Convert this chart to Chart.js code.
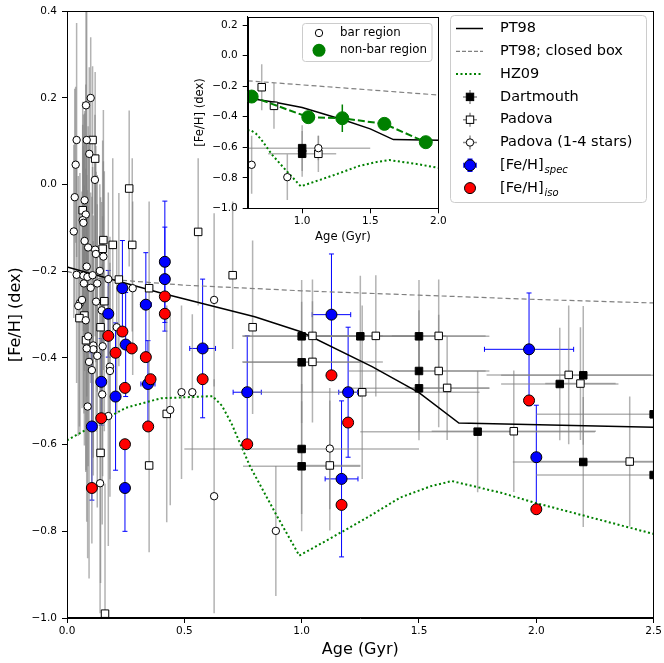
<!DOCTYPE html>
<html>
<head>
<meta charset="utf-8">
<script src="https://cdn.jsdelivr.net/npm/chart.js@4.4.0/dist/chart.umd.min.js"></script>
<style>
  html, body { margin: 0; padding: 0; background: #fff; }
  #wrap { position: relative; width: 664px; height: 663px; }
  #main { position: absolute; left: 0; top: 0; }
  #inset { position: absolute; left: 180px; top: 0; }
</style>
</head>
<body>
<div id="wrap">
  <canvas id="main" width="664" height="663"></canvas>
  <canvas id="inset" width="270" height="250"></canvas>
</div>
<script>
// ---- model curves ----
const agePT98 = [0.0, 0.4, 0.8, 1.0, 1.3, 1.5, 1.67, 2.5];
const fehPT98 = [-0.19, -0.25, -0.305, -0.34, -0.42, -0.48, -0.55, -0.56];
const ageBox = [0.0, 0.1, 0.5, 1.0, 1.5, 2.0, 2.5];
const fehBox = [-0.20, -0.215, -0.232, -0.245, -0.255, -0.265, -0.273];
const ageHZ09 = [0.0, 0.1, 0.25, 0.4, 0.62, 0.66, 0.7, 0.78, 0.89, 0.99, 1.13, 1.28, 1.42, 1.55, 1.64, 1.85, 2.0, 2.5];
const fehHZ09 = [-0.59, -0.56, -0.515, -0.493, -0.488, -0.51, -0.55, -0.65, -0.76, -0.856, -0.814, -0.768, -0.722, -0.696, -0.684, -0.711, -0.735, -0.806];

// ---- Dartmouth (filled squares) ----
const ageDart = [1.0, 1.0, 1.25, 1.5, 1.5, 1.5, 1.0, 1.0, 1.75, 2.1, 2.2, 2.2, 2.5, 2.5];
const fehDart = [-0.35, -0.41, -0.35, -0.35, -0.43, -0.47, -0.61, -0.65, -0.57, -0.46, -0.44, -0.64, -0.53, -0.67];
const ageErrDart = [0.25, 0.25, 0.25, 0.3, 0.3, 0.3, 0.5, 0.25, 0.5, 0.25, 0.35, 0.3, 0.5, 0.5];
const fehErrDart = [0.13, 0.14, 0.14, 0.13, 0.14, 0.12, 0.15, 0.15, 0.14, 0.13, 0.16, 0.15, 0.15, 0.15];

// ---- Padova (open squares) ----
const agePad = [0.109, 0.12, 0.067, 0.155, 0.195, 0.278, 0.152, 0.265, 0.559, 0.706,
  0.221, 0.35, 0.159, 0.074, 0.053, 0.143, 0.081, 0.791, 0.425, 0.143,
  0.35, 0.162, 1.046, 1.046, 1.316, 1.584, 1.584, 1.62, 1.258, 1.12,
  2.138, 2.188, 1.904, 2.398];
const fehPad = [0.103, 0.06, -0.059, -0.128, -0.139, -0.139, -0.148, -0.009, -0.109, -0.209,
  -0.219, -0.239, -0.269, -0.302, -0.308, -0.329, -0.359, -0.329, -0.529, -0.619,
  -0.648, -0.99, -0.349, -0.409, -0.349, -0.349, -0.43, -0.469, -0.479, -0.648,
  -0.439, -0.459, -0.569, -0.639];
const ageErrPad = [0, 0, 0, 0, 0, 0, 0, 0, 0, 0,
  0, 0, 0, 0, 0, 0, 0, 0, 0, 0,
  0, 0, 0.3, 0.3, 0.3, 0.2, 0.2, 0.18, 0.5, 0.13,
  0.35, 0.15, 0.35, 0.4];
const fehErrPad = [0.17, 0.2, 0.25, 0.3, 0.2, 0.2, 0.25, 0.18, 0.17, 0.17,
  0.2, 0.2, 0.3, 0.3, 0.25, 0.3, 0.3, 0.2, 0.25, 0.3,
  0.2, 0.3, 0.13, 0.14, 0.14, 0.13, 0.13, 0.12, 0.2, 0.15,
  0.16, 0.13, 0.14, 0.15];

// ---- Padova, 1-4 stars (open circles) ----
const ageP14 = [0.081, 0.101, 0.041, 0.084, 0.095, 0.037, 0.119, 0.033, 0.075, 0.08,
  0.067, 0.07, 0.029, 0.075, 0.09, 0.12, 0.123, 0.155, 0.084, 0.041,
  0.07, 0.087, 0.109, 0.14, 0.072, 0.101, 0.129, 0.176, 0.28, 0.055,
  0.048, 0.064, 0.124, 0.148, 0.08, 0.212, 0.09, 0.112, 0.112, 0.084,
  0.152, 0.129, 0.094, 0.106, 0.183, 0.183, 0.15, 0.088, 0.176, 0.488,
  0.534, 0.44, 0.141, 0.627, 0.627, 0.89, 1.12];
const fehP14 = [0.183, 0.2, 0.103, 0.103, 0.071, 0.046, 0.011, -0.029, -0.036, -0.069,
  -0.082, -0.088, -0.108, -0.13, -0.145, -0.15, -0.16, -0.166, -0.189, -0.208,
  -0.21, -0.213, -0.209, -0.199, -0.228, -0.238, -0.228, -0.218, -0.239, -0.273,
  -0.28, -0.266, -0.27, -0.29, -0.313, -0.329, -0.35, -0.371, -0.38, -0.378,
  -0.373, -0.395, -0.409, -0.428, -0.42, -0.43, -0.484, -0.512, -0.534, -0.479,
  -0.479, -0.52, -0.689, -0.719, -0.266, -0.799, -0.609];
const fehErrP14 = [0.22, 0.14, 0.27, 0.3, 0.2, 0.18, 0.15, 0.25, 0.2, 0.3,
  0.22, 0.25, 0.2, 0.3, 0.28, 0.2, 0.25, 0.22, 0.3, 0.25,
  0.3, 0.2, 0.25, 0.2, 0.3, 0.22, 0.25, 0.2, 0.2, 0.3,
  0.3, 0.25, 0.3, 0.25, 0.35, 0.2, 0.3, 0.3, 0.25, 0.4,
  0.3, 0.35, 0.5, 0.4, 0.3, 0.25, 0.3, 0.35, 0.3, 0.2,
  0.18, 0.22, 0.3, 0.27, 0.2, 0.15, 0.14];

// ---- [Fe/H]_spec (blue) ----
const ageSpec = [0.106, 0.146, 0.176, 0.207, 0.236, 0.25, 0.247, 0.336, 0.345, 0.417,
  0.417, 0.578, 0.768, 1.127, 1.198, 1.17, 1.969, 2.0];
const fehSpec = [-0.558, -0.455, -0.298, -0.489, -0.239, -0.369, -0.70, -0.277, -0.46, -0.178,
  -0.218, -0.378, -0.479, -0.30, -0.479, -0.679, -0.38, -0.629];
const ageErrSpec = [0, 0, 0, 0, 0, 0, 0, 0.023, 0.03, 0.02,
  0.02, 0.055, 0.06, 0.082, 0.04, 0.07, 0.19, 0];
const fehErrSpec = [0.17, 0.1, 0.1, 0.17, 0.11, 0.12, 0.1, 0.12, 0.1, 0.14,
  0.12, 0.16, 0.13, 0.14, 0.15, 0.18, 0.13, 0.12];

// ---- [Fe/H]_iso (red) ----
const ageIso = [0.417, 0.417, 0.236, 0.176, 0.276, 0.207, 0.336, 0.356, 0.578, 0.247,
  0.146, 0.346, 0.247, 0.106, 0.768, 1.127, 1.198, 1.17, 1.969, 2.0];
const fehIso = [-0.258, -0.298, -0.339, -0.349, -0.378, -0.388, -0.398, -0.449, -0.449, -0.469,
  -0.539, -0.558, -0.599, -0.70, -0.599, -0.44, -0.549, -0.739, -0.498, -0.749];

// ---- inset ----
const insetAgeBox = [0.6, 2.0];
const insetFehBox = [-0.165, -0.258];
const insetAgeNonBar = [0.629, 1.045, 1.295, 1.604, 1.908];
const insetFehNonBar = [-0.268, -0.403, -0.41, -0.447, -0.567];
const insetErrNonBar = [0, 0, 0.09, 0, 0];
const insetAgeDart = [1.0, 1.0];
const insetFehDart = [-0.606, -0.643];
const insetAgeErrDart = [0.5, 0.25];
const insetFehErrDart = [0.15, 0.15];
const insetAgePad = [0.703, 0.793, 1.119];
const insetFehPad = [-0.207, -0.329, -0.643];
const insetFehErrPad = [0.15, 0.15, 0.12];
const insetAgeBar = [0.629, 0.891, 1.119];
const insetFehBar = [-0.715, -0.796, -0.606];
const insetFehErrBar = [0.19, 0.15, 0.08];

const legendLabels = ['PT98', 'PT98; closed box', 'HZ09', 'Dartmouth', 'Padova', 'Padova (1-4 stars)', '[Fe/H]', '[Fe/H]'];
const legendSubs = ['', '', '', '', '', '', 'spec', 'iso'];
const insetLegendLabels = ['bar region', 'non-bar region'];

const FONT = "'DejaVu Sans', sans-serif";
const GREY_ERR = 'rgba(128,128,128,0.6)';
const GREEN = '#008000';
Chart.defaults.font.family = FONT;
Chart.defaults.color = '#000';

function pts(xs, ys) { return xs.map((x, i) => ({ x: x, y: ys[i] })); }
function fmt(v) {
  const s = Math.abs(v).toFixed(1);
  return (v < -1e-9 ? '\u2212' : '') + s;
}

// error bars drawn through the chart scales
const errorBars = {
  id: 'errorBars',
  beforeDatasetsDraw(chart) {
    const ctx = chart.ctx, xs = chart.scales.x, ys = chart.scales.y, a = chart.chartArea;
    ctx.save();
    ctx.beginPath();
    ctx.rect(a.left, a.top, a.right - a.left, a.bottom - a.top);
    ctx.clip();
    chart.data.datasets.forEach(ds => {
      if (!ds.errY && !ds.errX) return;
      ctx.strokeStyle = ds.errColor;
      ctx.lineWidth = ds.errWidth;
      const cap = ds.capSize || 0;
      ds.data.forEach((p, i) => {
        const px = xs.getPixelForValue(p.x), py = ys.getPixelForValue(p.y);
        const ey = ds.errY ? ds.errY[i] : 0, ex = ds.errX ? ds.errX[i] : 0;
        ctx.beginPath();
        if (ey) {
          const y1 = ys.getPixelForValue(p.y + ey), y2 = ys.getPixelForValue(p.y - ey);
          ctx.moveTo(px, y1); ctx.lineTo(px, y2);
          if (cap) {
            ctx.moveTo(px - cap, y1); ctx.lineTo(px + cap, y1);
            ctx.moveTo(px - cap, y2); ctx.lineTo(px + cap, y2);
          }
        }
        if (ex) {
          const x1 = xs.getPixelForValue(p.x - ex), x2 = xs.getPixelForValue(p.x + ex);
          ctx.moveTo(x1, py); ctx.lineTo(x2, py);
          if (cap) {
            ctx.moveTo(x1, py - cap); ctx.lineTo(x1, py + cap);
            ctx.moveTo(x2, py - cap); ctx.lineTo(x2, py + cap);
          }
        }
        ctx.stroke();
      });
    });
    ctx.restore();
  }
};

const frame = {
  id: 'frame',
  beforeDraw(chart) {
    if (!chart.options.plugins.frame || !chart.options.plugins.frame.fill) return;
    const a = chart.chartArea, ctx = chart.ctx;
    ctx.save();
    ctx.fillStyle = '#fff';
    ctx.fillRect(a.left, a.top, a.right - a.left, a.bottom - a.top);
    ctx.restore();
  },
  afterDatasetsDraw(chart) {
    const a = chart.chartArea, ctx = chart.ctx;
    ctx.save();
    ctx.strokeStyle = '#000';
    ctx.lineWidth = 1;
    ctx.strokeRect(Math.round(a.left) + 0.5, Math.round(a.top) + 0.5,
      Math.round(a.right - a.left) - 1, Math.round(a.bottom - a.top) - 1);
    ctx.restore();
  }
};

function roundRect(ctx, x, y, w, h, r) {
  ctx.beginPath();
  ctx.moveTo(x + r, y);
  ctx.lineTo(x + w - r, y); ctx.arcTo(x + w, y, x + w, y + r, r);
  ctx.lineTo(x + w, y + h - r); ctx.arcTo(x + w, y + h, x + w - r, y + h, r);
  ctx.lineTo(x + r, y + h); ctx.arcTo(x, y + h, x, y + h - r, r);
  ctx.lineTo(x, y + r); ctx.arcTo(x, y, x + r, y, r);
  ctx.closePath();
}
function circle(ctx, x, y, r, fill, stroke) {
  ctx.beginPath(); ctx.arc(x, y, r, 0, Math.PI * 2);
  ctx.fillStyle = fill; ctx.fill();
  if (stroke) { ctx.strokeStyle = stroke; ctx.lineWidth = 1; ctx.stroke(); }
}
function square(ctx, x, y, s, fill) {
  ctx.fillStyle = fill; ctx.fillRect(x - s / 2, y - s / 2, s, s);
  ctx.strokeStyle = '#000'; ctx.lineWidth = 1; ctx.strokeRect(x - s / 2, y - s / 2, s, s);
}
function cross(ctx, x, y, d, color, cap) {
  ctx.strokeStyle = color; ctx.lineWidth = 1.5;
  ctx.beginPath();
  ctx.moveTo(x - d, y); ctx.lineTo(x + d, y);
  ctx.moveTo(x, y - d); ctx.lineTo(x, y + d);
  if (cap) {
    ctx.moveTo(x - d, y - cap); ctx.lineTo(x - d, y + cap);
    ctx.moveTo(x + d, y - cap); ctx.lineTo(x + d, y + cap);
    ctx.moveTo(x - cap, y - d); ctx.lineTo(x + cap, y - d);
    ctx.moveTo(x - cap, y + d); ctx.lineTo(x + cap, y + d);
  }
  ctx.stroke();
}

const mainLegend = {
  id: 'mainLegend',
  afterDraw(chart) {
    const ctx = chart.ctx;
    ctx.save();
    roundRect(ctx, 450.5, 15.5, 196, 187, 4);
    ctx.fillStyle = 'rgba(255,255,255,0.85)'; ctx.fill();
    ctx.strokeStyle = '#cccccc'; ctx.lineWidth = 1; ctx.stroke();
    const x0 = 456, x1 = 483, xm = 470, tx = 500;
    legendLabels.forEach((lab, i) => {
      const y = 28.5 + i * 22.8;
      ctx.setLineDash([]);
      if (i === 0) {
        ctx.strokeStyle = '#000'; ctx.lineWidth = 1.5;
        ctx.beginPath(); ctx.moveTo(x0, y); ctx.lineTo(x1, y); ctx.stroke();
      } else if (i === 1) {
        ctx.strokeStyle = '#808080'; ctx.lineWidth = 1.2; ctx.setLineDash([4, 2]);
        ctx.beginPath(); ctx.moveTo(x0, y); ctx.lineTo(x1, y); ctx.stroke();
      } else if (i === 2) {
        ctx.strokeStyle = GREEN; ctx.lineWidth = 2; ctx.setLineDash([2, 2.5]);
        ctx.beginPath(); ctx.moveTo(x0, y); ctx.lineTo(x1, y); ctx.stroke();
      } else if (i === 3) {
        cross(ctx, xm, y, 7, 'rgba(110,110,110,0.8)'); square(ctx, xm, y, 7.4, '#000');
      } else if (i === 4) {
        cross(ctx, xm, y, 7, 'rgba(110,110,110,0.8)'); square(ctx, xm, y, 7.4, '#fff');
      } else if (i === 5) {
        cross(ctx, xm, y, 7, 'rgba(110,110,110,0.8)'); circle(ctx, xm, y, 3.7, '#fff', '#000');
      } else if (i === 6) {
        cross(ctx, xm, y, 6, '#0000ff', 2.5); circle(ctx, xm, y, 5.5, '#0000ff', '#000');
      } else {
        circle(ctx, xm, y, 5.5, '#ff0000', '#000');
      }
      ctx.setLineDash([]);
      ctx.fillStyle = '#000';
      ctx.textBaseline = 'middle';
      ctx.textAlign = 'left';
      ctx.font = '14.5px ' + FONT;
      ctx.fillText(lab, tx, y);
      if (legendSubs[i]) {
        const w = ctx.measureText(lab).width;
        ctx.font = 'italic 10px ' + FONT;
        ctx.fillText(legendSubs[i], tx + w + 1, y + 5);
      }
    });
    ctx.restore();
  }
};

const insetLegend = {
  id: 'insetLegend',
  afterDraw(chart) {
    const ctx = chart.ctx;
    ctx.save();
    roundRect(ctx, 122.5, 23.5, 129.5, 38, 3);
    ctx.fillStyle = 'rgba(255,255,255,0.85)'; ctx.fill();
    ctx.strokeStyle = '#cccccc'; ctx.lineWidth = 1; ctx.stroke();
    circle(ctx, 139, 33, 3.7, '#fff', '#000');
    circle(ctx, 139, 50.3, 6.5, GREEN);
    ctx.fillStyle = '#000';
    ctx.textBaseline = 'middle';
    ctx.font = '11.8px ' + FONT;
    insetLegendLabels.forEach((lab, i) => ctx.fillText(lab, 160, i === 0 ? 33 : 50.3));
    ctx.restore();
  }
};

function lineSet(xs, ys, color, width, dash, order) {
  return { data: pts(xs, ys), showLine: true, borderColor: color, borderWidth: width,
    borderDash: dash, pointRadius: 0, pointHoverRadius: 0, fill: false, order: order, clip: 0 };
}

// ---- main chart ----
new Chart(document.getElementById('main'), {
  type: 'scatter',
  data: {
    datasets: [
      { data: pts(ageIso, fehIso), pointStyle: 'circle', pointRadius: 5.5, pointBackgroundColor: '#ff0000',
        pointBorderColor: '#000', pointBorderWidth: 1, order: 1, clip: 0 },
      { data: pts(ageSpec, fehSpec), pointStyle: 'circle', pointRadius: 5.5, pointBackgroundColor: '#0000ff',
        pointBorderColor: '#000', pointBorderWidth: 1, order: 2, clip: 0,
        errX: ageErrSpec, errY: fehErrSpec, errColor: '#0000ff', errWidth: 1, capSize: 2.5 },
      { data: pts(ageP14, fehP14), pointStyle: 'circle', pointRadius: 3.7, pointBackgroundColor: '#fff',
        pointBorderColor: '#000', pointBorderWidth: 1, order: 3, clip: 0,
        errY: fehErrP14, errColor: GREY_ERR, errWidth: 1.5 },
      { data: pts(agePad, fehPad), pointStyle: 'rect', pointRadius: 5.3, pointBackgroundColor: '#fff',
        pointBorderColor: '#000', pointBorderWidth: 1, order: 4, clip: 0,
        errX: ageErrPad, errY: fehErrPad, errColor: GREY_ERR, errWidth: 1.5 },
      { data: pts(ageDart, fehDart), pointStyle: 'rect', pointRadius: 5.3, pointBackgroundColor: '#000',
        pointBorderColor: '#000', pointBorderWidth: 1, order: 5, clip: 0,
        errX: ageErrDart, errY: fehErrDart, errColor: GREY_ERR, errWidth: 1.5 },
      lineSet(agePT98, fehPT98, '#000', 1.5, [], 6),
      lineSet(ageBox, fehBox, '#808080', 1.2, [5, 3], 7),
      lineSet(ageHZ09, fehHZ09, GREEN, 2, [2, 2.5], 8)
    ]
  },
  options: {
    responsive: false,
    animation: false,
    events: [],
    layout: { padding: { left: 0, top: 7, right: 10, bottom: 0 } },
    plugins: { legend: { display: false }, tooltip: { enabled: false }, frame: { fill: false } },
    scales: {
      x: {
        type: 'linear', min: 0, max: 2.5,
        afterFit: s => { s.height = 45; },
        afterBuildTicks: s => { s.ticks = [0, 0.5, 1, 1.5, 2, 2.5].map(v => ({ value: v })); },
        grid: { drawOnChartArea: false, drawTicks: true, tickLength: 5, color: '#000' },
        border: { color: '#000' },
        ticks: { font: { size: 10.5 }, padding: 2, maxRotation: 0, autoSkip: false, callback: v => fmt(v) },
        title: { display: true, text: 'Age (Gyr)', font: { size: 16 }, padding: { top: 0, bottom: 3.5 } }
      },
      y: {
        type: 'linear', min: -1.0, max: 0.4,
        afterFit: s => { s.width = 67; },
        afterBuildTicks: s => { s.ticks = [-1.0, -0.8, -0.6, -0.4, -0.2, 0.0, 0.2, 0.4].map(v => ({ value: v })); },
        grid: { drawOnChartArea: false, drawTicks: true, tickLength: 5, color: '#000' },
        border: { color: '#000' },
        ticks: { font: { size: 10.5 }, padding: 5, autoSkip: false, callback: v => fmt(v) },
        title: { display: true, text: '[Fe/H] (dex)', font: { size: 16 }, padding: { top: 6, bottom: 0 } }
      }
    }
  },
  plugins: [errorBars, frame, mainLegend]
});

// ---- inset chart ----
new Chart(document.getElementById('inset'), {
  type: 'scatter',
  data: {
    datasets: [
      { data: pts(insetAgeNonBar, insetFehNonBar), showLine: true, borderColor: GREEN, borderWidth: 2,
        borderDash: [7, 3], pointStyle: 'circle', pointRadius: 6.5, pointBackgroundColor: GREEN,
        pointBorderColor: GREEN, pointBorderWidth: 1, order: 1, clip: 0,
        errY: insetErrNonBar, errColor: GREEN, errWidth: 1.5 },
      { data: pts(insetAgeBar, insetFehBar), pointStyle: 'circle', pointRadius: 3.7, pointBackgroundColor: '#fff',
        pointBorderColor: '#000', pointBorderWidth: 1, order: 2, clip: 0,
        errY: insetFehErrBar, errColor: GREY_ERR, errWidth: 1.5 },
      { data: pts(insetAgePad, insetFehPad), pointStyle: 'rect', pointRadius: 5.3, pointBackgroundColor: '#fff',
        pointBorderColor: '#000', pointBorderWidth: 1, order: 3, clip: 0,
        errY: insetFehErrPad, errColor: GREY_ERR, errWidth: 1.5 },
      { data: pts(insetAgeDart, insetFehDart), pointStyle: 'rect', pointRadius: 5.3, pointBackgroundColor: '#000',
        pointBorderColor: '#000', pointBorderWidth: 1, order: 4, clip: 0,
        errX: insetAgeErrDart, errY: insetFehErrDart, errColor: GREY_ERR, errWidth: 1.5 },
      lineSet(agePT98, fehPT98, '#000', 1.5, [], 5),
      lineSet(insetAgeBox, insetFehBox, '#808080', 1.2, [5, 3], 6),
      lineSet(ageHZ09, fehHZ09, GREEN, 2, [2, 2.5], 7)
    ]
  },
  options: {
    responsive: false,
    animation: false,
    events: [],
    layout: { padding: { left: 0, top: 16.7, right: 11.7, bottom: 0 } },
    plugins: { legend: { display: false }, tooltip: { enabled: false }, frame: { fill: true } },
    scales: {
      x: {
        type: 'linear', min: 0.6, max: 2.0,
        afterFit: s => { s.height = 41.7; },
        afterBuildTicks: s => { s.ticks = [1.0, 1.5, 2.0].map(v => ({ value: v })); },
        grid: { drawOnChartArea: false, drawTicks: true, tickLength: 5, color: '#000' },
        border: { color: '#000' },
        ticks: { font: { size: 10.5 }, padding: 2, maxRotation: 0, autoSkip: false, callback: v => fmt(v) },
        title: { display: true, text: 'Age (Gyr)', font: { size: 11.6 }, padding: { top: 0, bottom: 6 } }
      },
      y: {
        type: 'linear', min: -1.0, max: 0.255,
        afterFit: s => { s.width = 67.7; },
        afterBuildTicks: s => { s.ticks = [-1.0, -0.8, -0.6, -0.4, -0.2, 0.0, 0.2].map(v => ({ value: v })); },
        grid: { drawOnChartArea: false, drawTicks: true, tickLength: 5, color: '#000' },
        border: { color: '#000' },
        ticks: { font: { size: 10.5 }, padding: 5, autoSkip: false, callback: v => fmt(v) },
        title: { display: true, text: '[Fe/H] (dex)', font: { size: 11.6 }, padding: { top: 12.6, bottom: 0 } }
      }
    }
  },
  plugins: [errorBars, frame, insetLegend]
});
</script>
</body>
</html>
